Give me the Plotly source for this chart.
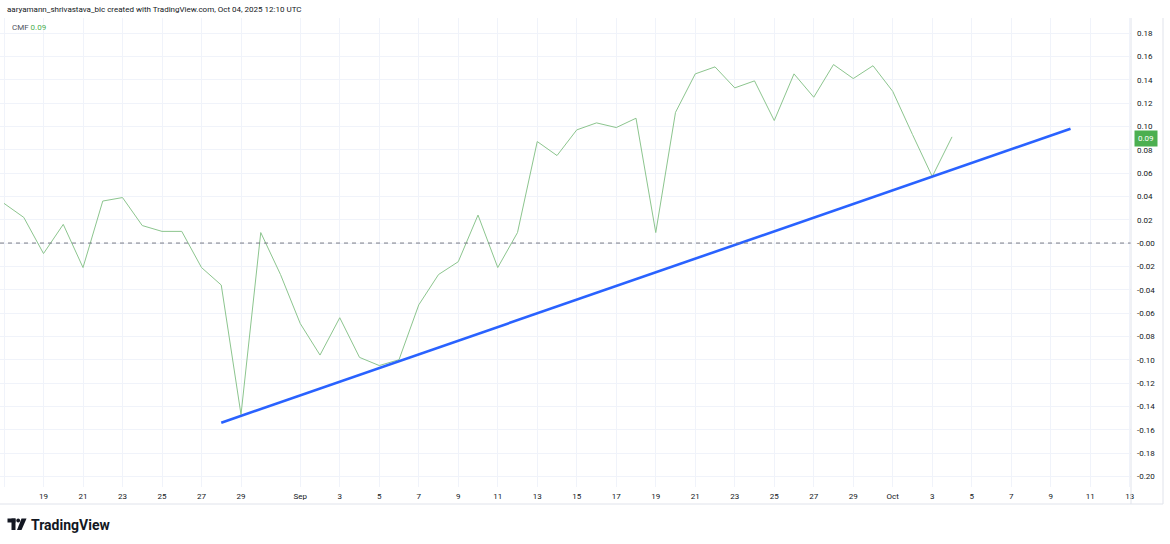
import plotly.graph_objects as go

# ---------- data ----------
dates = [
    "2025-08-17", "2025-08-18", "2025-08-19", "2025-08-20", "2025-08-21", "2025-08-22",
    "2025-08-23", "2025-08-24", "2025-08-25", "2025-08-26", "2025-08-27", "2025-08-28",
    "2025-08-29", "2025-08-30", "2025-08-31", "2025-09-01", "2025-09-02", "2025-09-03",
    "2025-09-04", "2025-09-05", "2025-09-06", "2025-09-07", "2025-09-08", "2025-09-09",
    "2025-09-10", "2025-09-11", "2025-09-12", "2025-09-13", "2025-09-14", "2025-09-15",
    "2025-09-16", "2025-09-17", "2025-09-18", "2025-09-19", "2025-09-20", "2025-09-21",
    "2025-09-22", "2025-09-23", "2025-09-24", "2025-09-25", "2025-09-26", "2025-09-27",
    "2025-09-28", "2025-09-29", "2025-09-30", "2025-10-01", "2025-10-02", "2025-10-03",
    "2025-10-04",
]
cmf = [
    0.034, 0.022, -0.009, 0.016, -0.021, 0.036,
    0.039, 0.015, 0.010, 0.010, -0.021, -0.036,
    -0.147, 0.009, -0.027, -0.069, -0.096, -0.064,
    -0.098, -0.105, -0.100, -0.053, -0.027, -0.016,
    0.024, -0.021, 0.009, 0.087, 0.075, 0.097,
    0.103, 0.099, 0.107, 0.009, 0.112, 0.145,
    0.151, 0.133, 0.139, 0.105, 0.145, 0.125,
    0.153, 0.141, 0.152, 0.130, 0.093, 0.057,
    0.091,
]

trend_dates = ["2025-08-28", "2025-10-10"]
trend_vals = [-0.154, 0.098]

last_value = 0.09

x_tick_dates = [
    "2025-08-17", "2025-08-19", "2025-08-21", "2025-08-23", "2025-08-25", "2025-08-27",
    "2025-08-29", "2025-09-01", "2025-09-03", "2025-09-05", "2025-09-07", "2025-09-09",
    "2025-09-11", "2025-09-13", "2025-09-15", "2025-09-17", "2025-09-19", "2025-09-21",
    "2025-09-23", "2025-09-25", "2025-09-27", "2025-09-29", "2025-10-01", "2025-10-03",
    "2025-10-05", "2025-10-07", "2025-10-09", "2025-10-11", "2025-10-13",
]
x_tick_labels = [
    "17", "19", "21", "23", "25", "27", "29", "Sep", "3", "5", "7", "9", "11", "13",
    "15", "17", "19", "21", "23", "25", "27", "29", "Oct", "3", "5", "7", "9", "11", "13",
]
y_tick_vals = [0.18, 0.16, 0.14, 0.12, 0.10, 0.08, 0.06, 0.04, 0.02, 0.0,
               -0.02, -0.04, -0.06, -0.08, -0.10, -0.12, -0.14, -0.16, -0.18, -0.20]
y_tick_labels = ["0.18", "0.16", "0.14", "0.12", "0.10", "0.08", "0.06", "0.04", "0.02", "-0.00",
                 "-0.02", "-0.04", "-0.06", "-0.08", "-0.10", "-0.12", "-0.14", "-0.16", "-0.18", "-0.20"]

title_text = "aaryamann_shrivastava_bic created with TradingView.com, Oct 04, 2025 12:10 UTC"

# ---------- layout geometry (pixels) ----------
W, H = 1170, 544
L, R, T, B = 0, 1131, 18, 487
TXT = "#131722"
GRID = "#f0f3fa"
BORDER = "#e0e3eb"
FONT = "Roboto"


def px(x):
    return (x - L) / (R - L)


def py(y):
    return (B - y) / (B - T)


fig = go.Figure()

fig.add_trace(go.Scatter(
    x=dates, y=cmf, mode="lines",
    line=dict(color="#8cc58e", width=1),
    hoverinfo="skip", showlegend=False,
))
fig.add_trace(go.Scatter(
    x=trend_dates, y=trend_vals, mode="lines",
    line=dict(color="#2962ff", width=2.6),
    hoverinfo="skip", showlegend=False,
))

shapes = [
    # zero line
    dict(type="line", xref="paper", yref="y", x0=0, x1=1, y0=0, y1=0,
         line=dict(color="#787b86", width=1, dash="4px,4px")),
    # chart frame
    dict(type="line", xref="paper", yref="paper", x0=1, x1=1, y0=py(504), y1=py(T),
         line=dict(color=BORDER, width=1)),
    dict(type="line", xref="paper", yref="paper", x0=0, x1=px(1163), y0=py(504), y1=py(504),
         line=dict(color=BORDER, width=1)),
    dict(type="line", xref="paper", yref="paper", x0=px(1163), x1=px(1163), y0=py(504), y1=py(T),
         line=dict(color=BORDER, width=1)),
    # TradingView logo
    dict(type="rect", xref="paper", yref="paper", x0=px(7.5), x1=px(15.5), y0=py(522.5), y1=py(518.5),
         fillcolor=TXT, line_width=0),
    dict(type="rect", xref="paper", yref="paper", x0=px(11.5), x1=px(15.5), y0=py(530), y1=py(518.5),
         fillcolor=TXT, line_width=0),
    dict(type="circle", xref="paper", yref="paper", x0=px(16.3), x1=px(20.1), y0=py(522.4), y1=py(518.6),
         fillcolor=TXT, line_width=0),
    dict(type="path", xref="paper", yref="paper",
         path=f"M {px(21.5)},{py(518.5)} L {px(26.5)},{py(518.5)} L {px(21.5)},{py(530)} L {px(17)},{py(530)} Z",
         fillcolor=TXT, line_width=0),
]

annotations = [
    dict(text=title_text, xref="paper", yref="paper", x=px(5), y=py(9),
         xanchor="left", yanchor="middle", showarrow=False,
         font=dict(family=FONT, size=8, color=TXT)),
    dict(text="CMF <span style='color:#4caf50'>0.09</span>", xref="paper", yref="paper",
         x=px(10), y=py(27), xanchor="left", yanchor="middle", showarrow=False,
         font=dict(family=FONT, size=8, color="#50535e")),
    dict(text=f"{last_value:.2f}", xref="paper", yref="y", x=px(1145.5), y=last_value,
         xanchor="center", yanchor="middle", showarrow=False,
         bgcolor="#4caf50", borderpad=3,
         font=dict(family=FONT, size=8, color="white")),
    dict(text="<b>TradingView</b>", xref="paper", yref="paper", x=px(29), y=py(524.5),
         xanchor="left", yanchor="middle", showarrow=False,
         font=dict(family=FONT, size=14, color=TXT)),
]

fig.update_layout(
    width=W, height=H,
    margin=dict(l=L, r=W - R, t=T, b=H - B, pad=0, autoexpand=False),
    paper_bgcolor="white", plot_bgcolor="white",
    font=dict(family=FONT, size=8, color=TXT),
    shapes=shapes, annotations=annotations,
    xaxis=dict(
        type="date", automargin=False,
        range=["2025-08-16 19:08", "2025-10-13 01:30"],
        tickvals=x_tick_dates, ticktext=x_tick_labels,
        showgrid=True, gridcolor=GRID, gridwidth=1,
        zeroline=False, showline=False, ticks="",
        tickfont=dict(family=FONT, size=8, color=TXT),
        ticklabelstandoff=3,
    ),
    yaxis=dict(
        side="right", automargin=False,
        range=[-0.2091, 0.1929],
        tickvals=y_tick_vals, ticktext=y_tick_labels,
        showgrid=True, gridcolor=GRID, gridwidth=1,
        zeroline=False, showline=False, ticks="",
        tickfont=dict(family=FONT, size=8, color=TXT),
        ticklabelstandoff=5,
    ),
)

# the page body has a default 8px margin; drop it so the figure fills the window
fig.write_html("out.html", config={"displayModeBar": False},
               post_script="document.body.style.margin='0';")
